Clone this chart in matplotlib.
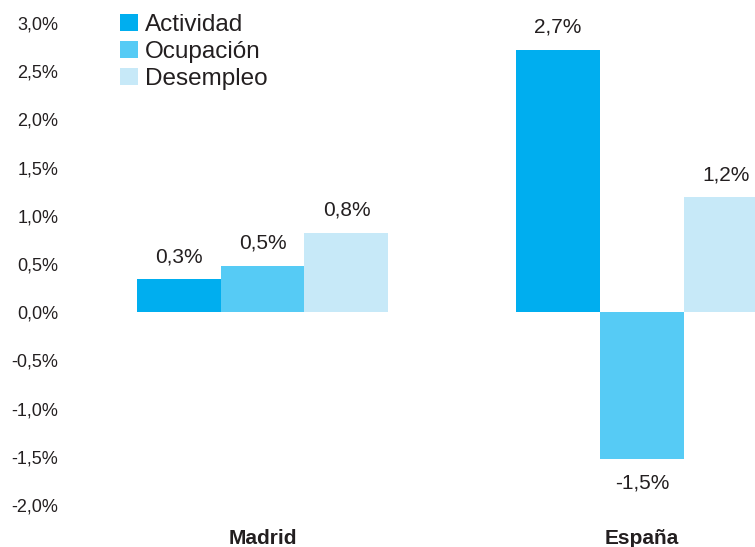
import matplotlib
matplotlib.use('Agg')
import numpy as np
import matplotlib.pyplot as plt
from matplotlib.patches import Patch

plt.rcParams['font.family'] = ['Liberation Sans', 'DejaVu Sans']

# DATA ######################################################################
regions = ['Madrid', 'España']
series = ['Actividad', 'Ocupación', 'Desempleo']
actividad = [0.34, 2.72]
ocupacion = [0.48, -1.52]
desempleo = [0.82, 1.19]
yticks = np.arange(-2.0, 3.01, 0.5)

colors = ['#00AEEF', '#56CBF5', '#C7E9F8']
txt = '#231F20'

# FIGURE ####################################################################
fig = plt.figure(figsize=(7.55, 5.47), dpi=100)
ax = fig.add_axes([75/755, 42/547, 680/755, 482/547])

x = np.arange(len(regions))
w = 0.2213
for i, (vals, c) in enumerate(zip([actividad, ocupacion, desempleo], colors)):
    xpos = x + (i - 1) * w
    ax.bar(xpos, vals, width=w, color=c, linewidth=0)
    for xp, v in zip(xpos, vals):
        lab = f'{v:.1f}%'.replace('.', ',')
        off = 9.5 if v >= 0 else -10.5
        ax.annotate(lab, (xp, v), xytext=(0, off), textcoords='offset points',
                    ha='center', va='bottom' if v >= 0 else 'top',
                    fontsize=15, color=txt, annotation_clip=False)

ax.set_ylim(-2.0, 3.0)
ax.set_xlim(-(262.5 - 75) / 379.5, 1 + (755 - 642) / 379.5)
ax.set_yticks(yticks)
ax.set_yticklabels([f'{t:.1f}%'.replace('.', ',') for t in yticks],
                   fontsize=13, color=txt)
ax.tick_params(axis='y', length=0, pad=12)
ax.set_xticks([])
for s in ax.spines.values():
    s.set_visible(False)

# category labels below the plot
for xi, name in zip(x, regions):
    ax.annotate(name, (xi, 0), xycoords=('data', 'figure fraction'),
                xytext=(0, 9), textcoords='offset pixels',
                ha='center', va='center', fontsize=15, fontweight='bold',
                color=txt)

handles = [Patch(facecolor=c, edgecolor='none') for c in colors]
fig.legend(handles, series, loc='upper left',
           bbox_to_anchor=(120/755, 1 - 14/547), frameon=False,
           fontsize=17.5, handlelength=0.72, handleheight=0.72,
           handletextpad=0.3, labelspacing=0.2, borderpad=0,
           borderaxespad=0, labelcolor=txt)

fig.savefig('out.png', dpi=100)
